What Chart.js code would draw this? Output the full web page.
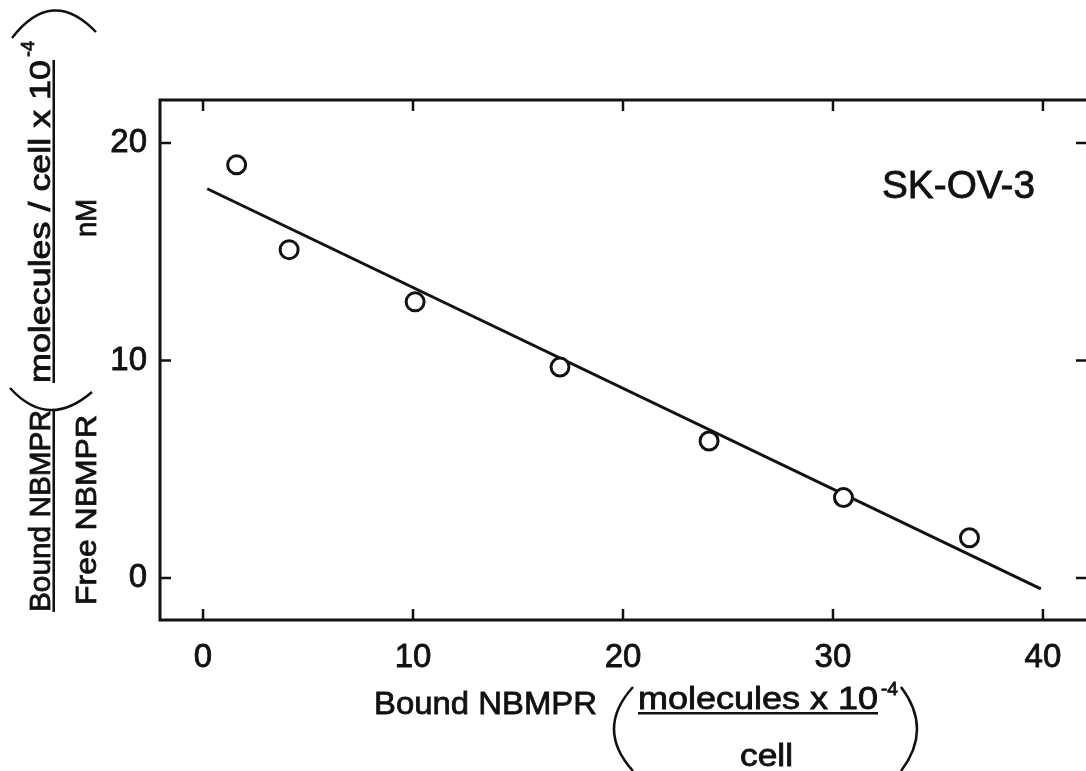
<!DOCTYPE html>
<html>
<head>
<meta charset="utf-8">
<title>SK-OV-3 Scatchard plot</title>
<script src="https://cdn.jsdelivr.net/npm/chart.js@4.4.1/dist/chart.umd.min.js"></script>
<style>
  html, body { margin: 0; padding: 0; background: #fff; }
  #wrap { width: 1086px; height: 771px; position: relative; }
</style>
</head>
<body>
<div id="wrap"><canvas id="scatchard" width="1086" height="771"></canvas></div>
<script>
// bound NBMPR (molecules x 10^-4 / cell) vs bound/free ratio
const boundValues = [1.6, 4.1, 10.1, 17.0, 24.1, 30.5, 36.5];
const ratioValues = [19.0, 15.1, 12.7, 9.7, 6.3, 3.7, 1.85];

// fitted regression line, two end points
const fitX = [0.2, 39.9];
const fitY = [17.9, -0.5];

const xTicks = [0, 10, 20, 30, 40];
const yTicks = [0, 10, 20];
const cellLine = 'SK-OV-3';

const FONT = '"Liberation Sans", Arial, Helvetica, sans-serif';
const INK = '#111';

const scatterPts = boundValues.map((x, i) => ({ x: x, y: ratioValues[i] }));
const fitPts = fitX.map((x, i) => ({ x: x, y: fitY[i] }));

// frame with inward tick marks, like the old printed figure
const framePlugin = {
    id: 'frame',
    beforeDatasetsDraw(chart) {
        const { ctx, chartArea: a, scales: { x, y } } = chart;
        ctx.save();
        ctx.strokeStyle = INK;
        ctx.lineWidth = 3;
        ctx.lineCap = 'square';
        ctx.beginPath();
        ctx.moveTo(a.right, a.top);
        ctx.lineTo(a.left, a.top);
        ctx.lineTo(a.left, a.bottom);
        ctx.lineTo(a.right, a.bottom);
        ctx.stroke();

        ctx.lineWidth = 2.5;
        ctx.lineCap = 'butt';
        ctx.beginPath();
        xTicks.forEach(v => {
            const px = x.getPixelForValue(v);
            ctx.moveTo(px, a.bottom);
            ctx.lineTo(px, a.bottom - 11);
            ctx.moveTo(px, a.top);
            ctx.lineTo(px, a.top + 11);
        });
        yTicks.forEach(v => {
            const py = y.getPixelForValue(v);
            ctx.moveTo(a.left, py);
            ctx.lineTo(a.left + 11, py);
            ctx.moveTo(a.right, py);
            ctx.lineTo(a.right - 10, py);
        });
        ctx.stroke();
        ctx.restore();
    }
};

// text squeezed or stretched along its run to fill a given width,
// with a thin outline so it prints as heavy as the tick labels
function spanText(ctx, text, left, baseline, width, font) {
    ctx.font = font;
    const w = ctx.measureText(text).width;
    ctx.save();
    ctx.translate(left, baseline);
    ctx.scale(width / w, 1);
    ctx.textAlign = 'left';
    ctx.lineWidth = 0.8;
    ctx.fillText(text, 0, 0);
    ctx.strokeText(text, 0, 0);
    ctx.restore();
}

function paren(ctx, x0, y0, cx, cy, x1, y1) {
    ctx.beginPath();
    ctx.moveTo(x0, y0);
    ctx.quadraticCurveTo(cx, cy, x1, y1);
    ctx.stroke();
}

const titlesPlugin = {
    id: 'titles',
    afterDraw(chart) {
        const { ctx } = chart;
        ctx.save();
        ctx.fillStyle = INK;
        ctx.strokeStyle = INK;
        ctx.lineWidth = 2.5;
        ctx.textBaseline = 'alphabetic';

        // label inside the plot
        spanText(ctx, cellLine, 882, 198, 153, '39px ' + FONT);

        // x axis title: Bound NBMPR (molecules x 10^-4 / cell)
        spanText(ctx, 'Bound NBMPR', 374, 714, 223, '32px ' + FONT);
        paren(ctx, 633, 687, 595, 729, 633, 771);
        spanText(ctx, 'molecules x 10', 638, 709, 240, '31px ' + FONT);
        ctx.fillRect(638, 712, 240, 2.5);
        spanText(ctx, '-4', 881, 695, 17, '19px ' + FONT);
        spanText(ctx, 'cell', 740, 766, 53, '31px ' + FONT);
        paren(ctx, 901, 687, 933, 729, 901, 771);

        // y axis title, rotated a quarter turn
        ctx.save();
        ctx.rotate(-Math.PI / 2);
        // local (u, v) maps to page (v, -u)
        spanText(ctx, 'Bound NBMPR', -612, 50, 202, '29px ' + FONT);
        ctx.fillRect(-612, 52.5, 202, 2.5);
        spanText(ctx, 'Free NBMPR', -605, 96, 190, '29px ' + FONT);
        spanText(ctx, 'molecules / cell x 10', -383, 50, 323, '29px ' + FONT);
        ctx.fillRect(-383, 52.5, 323, 2.5);
        spanText(ctx, '-4', -57, 34, 16, '18px ' + FONT);
        spanText(ctx, 'nM', -237, 96, 38, '29px ' + FONT);
        ctx.restore();

        // brackets of the y title, drawn in page space
        ctx.lineWidth = 2.5;
        paren(ctx, 10, 388, 48, 430, 92, 392);
        paren(ctx, 12, 38, 52, -14, 96, 32);

        ctx.restore();
    }
};

const fixedTicks = values => scale => {
    scale.ticks = values.map(v => ({ value: v }));
};

new Chart(document.getElementById('scatchard'), {
    type: 'scatter',
    data: {
        datasets: [
            {
                label: 'fit',
                type: 'line',
                data: fitPts,
                borderColor: INK,
                borderWidth: 3,
                pointRadius: 0,
                fill: false,
                order: 2
            },
            {
                label: cellLine,
                data: scatterPts,
                pointStyle: 'circle',
                pointRadius: 9,
                borderWidth: 3,
                borderColor: INK,
                backgroundColor: '#fff',
                order: 1
            }
        ]
    },
    options: {
        responsive: false,
        animation: false,
        events: [],
        layout: { autoPadding: false, padding: { top: 100, right: 0, left: 0, bottom: 0 } },
        plugins: {
            legend: { display: false },
            tooltip: { enabled: false }
        },
        scales: {
            x: {
                type: 'linear',
                min: -2.05,
                max: 42.05,
                grid: { display: false, drawTicks: false },
                border: { display: false },
                afterBuildTicks: fixedTicks(xTicks),
                afterFit: s => { s.height = 151; s.paddingLeft = 0; s.paddingRight = 0; },
                ticks: {
                    padding: 18,
                    color: INK,
                    autoSkip: false,
                    textStrokeColor: INK,
                    textStrokeWidth: 0.8,
                    font: { family: FONT, size: 33 },
                    maxRotation: 0
                }
            },
            y: {
                type: 'linear',
                min: -1.93,
                max: 21.98,
                grid: { display: false, drawTicks: false },
                border: { display: false },
                afterBuildTicks: fixedTicks(yTicks),
                afterFit: s => { s.width = 160; },
                ticks: {
                    padding: 13,
                    color: INK,
                    autoSkip: false,
                    textStrokeColor: INK,
                    textStrokeWidth: 0.8,
                    font: { family: FONT, size: 33 }
                }
            }
        }
    },
    plugins: [framePlugin, titlesPlugin]
});
</script>
</body>
</html>
